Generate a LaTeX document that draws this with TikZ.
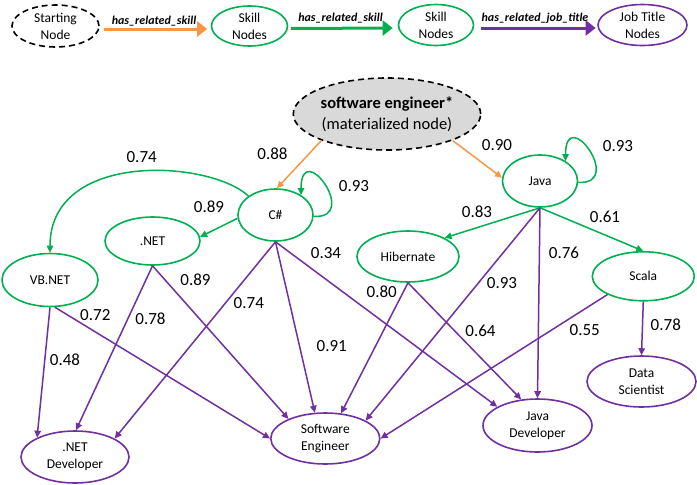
\documentclass[tikz,border=0pt]{standalone}
\usepackage{fontspec}
\setmainfont{Carlito}
\usetikzlibrary{shapes.geometric,arrows.meta}
\definecolor{cgreen}{HTML}{00B050}
\definecolor{cpurple}{HTML}{7030A0}
\definecolor{corange}{HTML}{F79646}
\definecolor{cgray}{HTML}{D9D9D9}
\begin{document}
\begin{tikzpicture}[x=1pt,y=-1pt,
  base/.style={ellipse, inner sep=0pt, line width=1.6pt, align=center, font=\fontsize{13.5}{17}\selectfont},
  skill/.style={base, draw=cgreen},
  job/.style={base, draw=cpurple},
  sz/.style 2 args={minimum width=#1pt, minimum height=#2pt},
  lbl/.style={font=\fontsize{17}{19}\selectfont, inner sep=0pt},
  leglbl/.style={font=\fontsize{12}{14}\selectfont\bfseries\itshape, inner sep=0pt},
  tipstyle/.style={-{Triangle[length=7pt,width=6.5pt]}},
  gedge/.style={draw=cgreen, line width=1.5pt, tipstyle},
  pedge/.style={draw=cpurple, line width=1.5pt, tipstyle},
  oedge/.style={draw=corange, line width=1.5pt, tipstyle},
  legarrow/.style={line width=3pt, -{Triangle[length=10pt,width=15pt]}},
  dashell/.style={dash pattern=on 6pt off 4pt}
]
\useasboundingbox (0,0) rectangle (697,485);

% legend
\node[base, draw=black, dashell, sz={87}{42}] (start) at (55.5,26) {Starting\\Node};
\node[skill, sz={76}{40}] (sk1) at (249.5,26) {Skill\\Nodes};
\node[skill, sz={75}{41}] (sk2) at (436,25) {Skill\\Nodes};
\node[job, sz={89}{41}] (jt) at (642.5,25) {Job Title\\Nodes};

\draw[legarrow, draw=corange] ([shift={(4,3)}]start.east) -- ([shift={(-3.5,3)}]sk1.west);
\draw[legarrow, draw=cgreen] ([shift={(2.5,2.5)}]sk1.east) -- ([shift={(-5,3)}]sk2.west);
\draw[legarrow, draw=cpurple] ([shift={(6.5,3)}]sk2.east) -- ([shift={(-1.5,3)}]jt.west);

\node[leglbl] (l1) at (154,20.7) {has\_related\_skill};
\node[leglbl] (l2) at (340.5,18.3) {has\_related\_skill};
\node[leglbl] (l3) at (535,18.3) {has\_related\_job\_title};

% main nodes
\node[ellipse, fill=cgray, draw=black, dashell, line width=1.6pt, sz={180}{72}, inner sep=0pt, align=center, font=\fontsize{16.5}{21}\selectfont] (mat) at (387,114) {\textbf{software engineer*}\\(materialized node)};

\node[skill, sz={75}{52}] (cs) at (275.5,215) {C\#};
\node[skill, sz={75}{52}] (java) at (540,181) {Java};
\node[skill, sz={95}{48}] (net) at (152.5,241) {.NET};
\node[skill, sz={96}{53}] (vb) at (50,280) {VB.NET};
\node[skill, sz={102}{51}] (hib) at (408,256.5) {Hibernate};
\node[skill, sz={102}{49}] (scala) at (643.3,276.3) {Scala};

\node[job, sz={109}{51}] (ds) at (641.5,381.5) {Data\\Scientist};
\node[job, sz={109}{53}] (jdev) at (537.5,425.5) {Java\\Developer};
\node[job, sz={109}{51}] (se) at (325.3,438.5) {Software\\Engineer};
\node[job, sz={108}{52}] (ndev) at (75,457) {.NET\\Developer};

% orange
\draw[oedge] (mat.202) -- (cs.87);
\draw[oedge] (mat.-22) -- (java.175);

% green
\draw[gedge] (cs.185) -- (net.5);
\draw[gedge] (cs.145) .. controls (210,160) and (50,150) .. (vb.north);
\draw[gedge] (cs.-2) .. controls +(47,3) and +(0,-58) .. (cs.38);
\draw[gedge] (java.-2) .. controls +(47,3) and +(0,-58) .. (java.38);
\draw[gedge] (java.south) -- (hib.27);
\draw[gedge] (java.south) -- (scala.north);

% purple
\draw[pedge] (vb.south) -- (ndev.153);
\draw[pedge] (vb.-80) -- (se.west);
\draw[pedge] (net.south) -- (ndev.88);
\draw[pedge] (net.south) -- (se.152);
\draw[pedge] (cs.south) -- (ndev.25);
\draw[pedge] (cs.south) -- (se.112);
\draw[pedge] (cs.south) -- (jdev.155);
\draw[pedge] (hib.south) -- (se.58);
\draw[pedge] (hib.south) -- (jdev.122);
\draw[pedge] (java.south) -- (se.24);
\draw[pedge] (java.south) -- (jdev.north);
\draw[pedge] (scala.207) -- (se.east);
\draw[pedge] (scala.south) -- (ds.north);

% edge labels
\node[lbl] (w1) at (141.7,157) {0.74};
\node[lbl] (w2) at (272.5,154) {0.88};
\node[lbl] (w3) at (354,186) {0.93};
\node[lbl] (w4) at (209,206.7) {0.89};
\node[lbl] (w5) at (326,253) {0.34};
\node[lbl] (w6) at (497,145) {0.90};
\node[lbl] (w7) at (618,146) {0.93};
\node[lbl] (w8) at (477,211.7) {0.83};
\node[lbl] (w9) at (605,216.7) {0.61};
\node[lbl] (w10) at (564,252.7) {0.76};
\node[lbl] (w11) at (195.5,280) {0.89};
\node[lbl] (w12) at (95.3,315) {0.72};
\node[lbl] (w13) at (150.5,318.3) {0.78};
\node[lbl] (w14) at (248.8,303.3) {0.74};
\node[lbl] (w15) at (65,360) {0.48};
\node[lbl] (w16) at (331.7,346) {0.91};
\node[lbl] (w17) at (381.7,291.7) {0.80};
\node[lbl] (w18) at (502,282.7) {0.93};
\node[lbl] (w19) at (480.5,331) {0.64};
\node[lbl] (w20) at (584.7,330) {0.55};
\node[lbl] (w21) at (665.8,325) {0.78};
\end{tikzpicture}
\end{document}
